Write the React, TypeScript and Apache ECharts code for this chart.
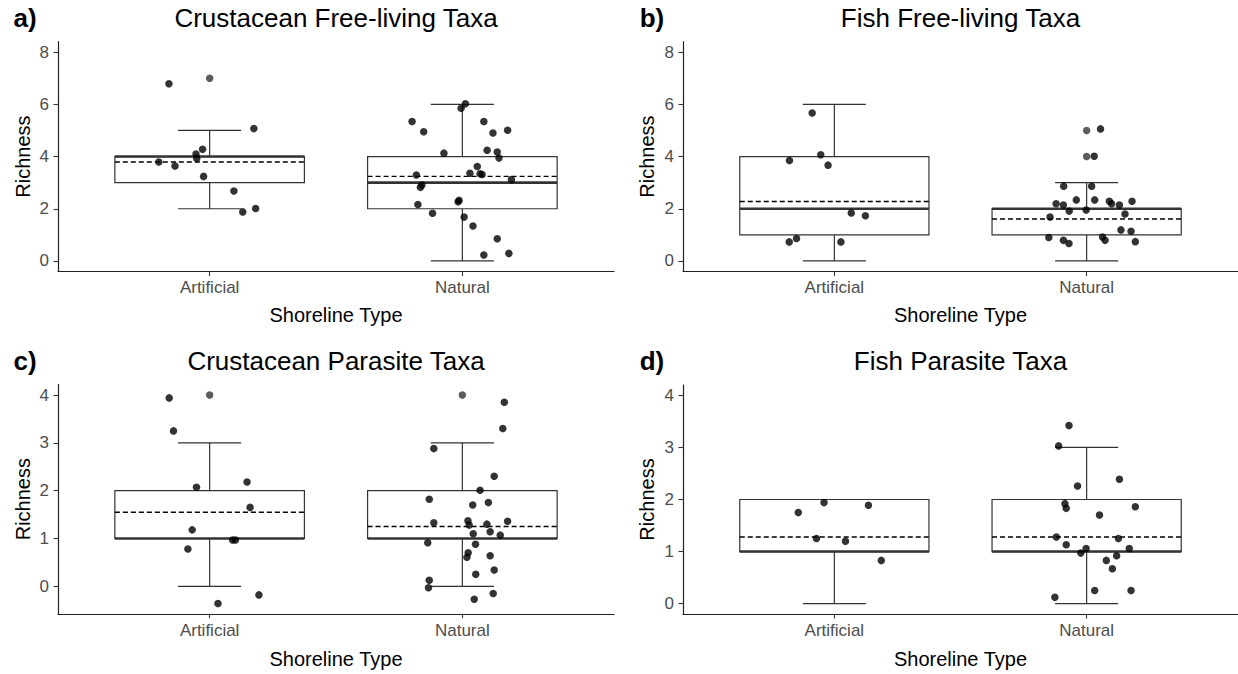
import React, { useEffect, useRef } from "react";
import * as echarts from "echarts";

const categories = ["Artificial", "Natural"];
const panelTags = ["a)", "b)", "c)", "d)"];
const panelTitles = [
  "Crustacean Free-living Taxa",
  "Fish Free-living Taxa",
  "Crustacean Parasite Taxa",
  "Fish Parasite Taxa",
];
const xAxisTitle = "Shoreline Type";
const yAxisTitle = "Richness";

const freeTicks = [0, 2, 4, 6, 8];
const parasiteTicks = [0, 1, 2, 3, 4];

// box stats: [category position, lower whisker, Q1, median, Q3, upper whisker, mean]
const crustFreeBox = [
  [1, 2, 3, 4, 4, 5, 3.79],
  [2, 0, 2, 3, 4, 6, 3.24],
];
const fishFreeBox = [
  [1, 0, 1, 2, 4, 6, 2.28],
  [2, 0, 1, 2, 2, 3, 1.61],
];
const crustParBox = [
  [1, 0, 1, 1, 2, 3, 1.55],
  [2, 0, 1, 1, 2, 3, 1.25],
];
const fishParBox = [
  [1, 0, 1, 1, 2, 2, 1.28],
  [2, 0, 1, 1, 2, 3, 1.28],
];

// boxplot outliers
const crustFreeOut = [[1, 7]];
const fishFreeOut = [[2, 5], [2, 4]];
const crustParOut = [[1, 4], [2, 4]];
const fishParOut: number[][] = [];

// jittered observations [jittered x, richness]
const crustFreePts = [
  [0.839, 6.79], [1.175, 5.07], [0.799, 3.79], [0.863, 3.64], [0.946, 4.1], [0.972, 4.28],
  [0.949, 3.93], [0.976, 3.24], [1.096, 2.68], [1.131, 1.88], [1.182, 2.01],
  [2.012, 6.02], [1.995, 5.85], [1.801, 5.34], [1.847, 4.95], [2.085, 5.34], [2.121, 4.9],
  [2.179, 5.01], [1.927, 4.13], [2.098, 4.24], [2.138, 4.17], [2.145, 3.94], [2.059, 3.62],
  [2.03, 3.36], [2.07, 3.34], [2.078, 3.31], [1.818, 3.29], [1.84, 2.91], [1.834, 2.82],
  [2.194, 3.12], [1.824, 2.16], [1.987, 2.32], [1.983, 2.27], [1.882, 1.83], [2.007, 1.68],
  [2.042, 1.34], [2.138, 0.85], [2.085, 0.23], [2.184, 0.29],
];
const fishFreePts = [
  [0.912, 5.67], [0.946, 4.07], [0.822, 3.85], [0.975, 3.67], [1.067, 1.84], [1.123, 1.73],
  [0.821, 0.73], [0.85, 0.86], [1.026, 0.73],
  [2.055, 5.06], [2.03, 4.01], [1.909, 2.86], [2.02, 2.86], [1.959, 2.34], [2.032, 2.34],
  [2.18, 2.29], [1.879, 2.19], [1.908, 2.14], [2.09, 2.29], [2.099, 2.19], [2.13, 2.14],
  [1.931, 1.91], [1.998, 1.95], [2.152, 1.8], [1.855, 1.68], [2.136, 1.19], [2.176, 1.14],
  [1.85, 0.9], [1.908, 0.79], [1.93, 0.67], [2.063, 0.92], [2.073, 0.79], [2.193, 0.74],
];
const crustParPts = [
  [0.84, 3.94], [0.857, 3.25], [0.948, 2.07], [1.148, 2.18], [1.16, 1.65], [0.931, 1.18],
  [1.091, 0.97], [1.102, 0.97], [0.914, 0.78], [1.195, -0.18], [1.033, -0.36],
  [2.166, 3.85], [2.16, 3.3], [1.887, 2.88], [2.126, 2.3], [2.07, 2.01], [1.869, 1.82],
  [2.103, 1.75], [2.041, 1.7], [1.887, 1.33], [2.022, 1.37], [2.027, 1.28], [2.097, 1.3],
  [2.179, 1.36], [2.11, 1.14], [2.043, 1.1], [2.15, 1.07], [1.863, 0.91], [2.052, 0.88],
  [2.023, 0.7], [2.018, 0.61], [2.11, 0.64], [2.053, 0.25], [2.126, 0.34], [1.869, 0.125],
  [1.866, -0.03], [2.122, -0.15], [2.047, -0.27],
];
const fishParPts = [
  [0.857, 1.75], [0.959, 1.94], [1.135, 1.89], [0.929, 1.25], [1.044, 1.2], [1.186, 0.83],
  [1.93, 3.42], [1.889, 3.03], [2.13, 2.39], [1.964, 2.26], [1.914, 1.92], [1.919, 1.83],
  [2.193, 1.86], [2.051, 1.7], [1.88, 1.28], [2.126, 1.25], [1.919, 1.13], [1.998, 1.06],
  [1.977, 0.97], [2.169, 1.06], [2.119, 0.92], [2.078, 0.83], [2.102, 0.67], [2.032, 0.25],
  [2.176, 0.25], [1.874, 0.12],
];

const FONT = "'Liberation Sans', Arial, Helvetica, sans-serif";

const panels = [
  { grid: { left: 58, top: 41.7, width: 556, height: 229.7 }, yMin: -0.4, yMax: 8.4, ticks: freeTicks, box: crustFreeBox, out: crustFreeOut, pts: crustFreePts },
  { grid: { left: 683, top: 41.7, width: 555, height: 229.7 }, yMin: -0.4, yMax: 8.4, ticks: freeTicks, box: fishFreeBox, out: fishFreeOut, pts: fishFreePts },
  { grid: { left: 58, top: 384.5, width: 556, height: 229.3 }, yMin: -0.575, yMax: 4.22, ticks: parasiteTicks, box: crustParBox, out: crustParOut, pts: crustParPts },
  { grid: { left: 683, top: 385, width: 555, height: 229 }, yMin: -0.2, yMax: 4.2, ticks: parasiteTicks, box: fishParBox, out: fishParOut, pts: fishParPts },
];

const BOX = "#333333";

function renderBox(params: any, api: any) {
  const x = api.value(0);
  const lo = api.value(1);
  const q1 = api.value(2);
  const med = api.value(3);
  const q3 = api.value(4);
  const hi = api.value(5);
  const mean = api.value(6);
  const bw = 0.375;
  const cw = 0.125;
  const pL = api.coord([x - bw, q1]);
  const pR = api.coord([x + bw, q3]);
  const cL = api.coord([x - cw, lo])[0];
  const cR = api.coord([x + cw, lo])[0];
  const xc = api.coord([x, 0])[0];
  const yLo = api.coord([x, lo])[1];
  const yHi = api.coord([x, hi])[1];
  const yQ1 = pL[1];
  const yQ3 = pR[1];
  const yMed = api.coord([x, med])[1];
  const yMean = api.coord([x, mean])[1];
  const ls = { stroke: BOX, lineWidth: 1.2 };
  return {
    type: "group",
    children: [
      { type: "line", shape: { x1: xc, y1: yQ3, x2: xc, y2: yHi }, style: ls },
      { type: "line", shape: { x1: xc, y1: yQ1, x2: xc, y2: yLo }, style: ls },
      { type: "line", shape: { x1: cL, y1: yHi, x2: cR, y2: yHi }, style: ls },
      { type: "line", shape: { x1: cL, y1: yLo, x2: cR, y2: yLo }, style: ls },
      {
        type: "rect",
        shape: { x: pL[0], y: yQ3, width: pR[0] - pL[0], height: yQ1 - yQ3 },
        style: { fill: "#ffffff", stroke: BOX, lineWidth: 1.2 },
      },
      { type: "line", shape: { x1: pL[0], y1: yMed, x2: pR[0], y2: yMed }, style: { stroke: BOX, lineWidth: 2.6 } },
      {
        type: "line",
        shape: { x1: pL[0], y1: yMean, x2: pR[0], y2: yMean },
        style: { stroke: "#000", lineWidth: 1.4, lineDash: [5, 3] },
      },
    ],
  };
}

export default function App() {
  const ref = useRef<HTMLDivElement>(null);
  useEffect(() => {
    if (!ref.current) return;
    const chart = echarts.init(ref.current, undefined, { renderer: "svg" });

    const grids = panels.map((p) => ({ ...p.grid, containLabel: false, outerBoundsMode: "none" }));
    const xAxes = panels.map((p, i) => ({
      type: "value",
      gridIndex: i,
      min: 0.4,
      max: 2.6,
      splitLine: { show: false },
      axisLine: { show: true, onZero: false, lineStyle: { color: "#222", width: 1.2 } },
      axisTick: { show: true, length: 4.5, lineStyle: { color: "#333", width: 1.1 }, customValues: [1, 2] },
      axisLabel: {
        show: true,
        customValues: [1, 2],
        formatter: (v: number) => categories[Math.round(v) - 1] || "",
        color: "#4D4D4D",
        fontSize: 17,
        fontFamily: FONT,
        margin: 8,
      },
    }));
    const yAxes = panels.map((p, i) => ({
      type: "value",
      gridIndex: i,
      min: p.yMin,
      max: p.yMax,
      splitLine: { show: false },
      axisLine: { show: true, onZero: false, lineStyle: { color: "#222", width: 1.2 } },
      axisTick: { show: true, length: 4.5, lineStyle: { color: "#333", width: 1.1 }, customValues: p.ticks },
      axisLabel: {
        show: true,
        customValues: p.ticks,
        formatter: (v: number) => String(v),
        color: "#4D4D4D",
        fontSize: 17,
        fontFamily: FONT,
        margin: 9,
      },
    }));

    const series: any[] = [];
    panels.forEach((p, i) => {
      series.push({
        type: "custom",
        xAxisIndex: i,
        yAxisIndex: i,
        renderItem: renderBox,
        data: p.box,
        encode: { x: 0, y: [1, 2, 3, 4, 5] },
        z: 2,
      });
      series.push({
        type: "scatter",
        xAxisIndex: i,
        yAxisIndex: i,
        data: p.out,
        symbol: "circle",
        symbolSize: 7.5,
        itemStyle: { color: "#333333" },
        z: 3,
      });
      series.push({
        type: "scatter",
        xAxisIndex: i,
        yAxisIndex: i,
        data: p.pts,
        symbol: "circle",
        symbolSize: 7.5,
        itemStyle: { color: "#000000" },
        z: 4,
      });
    });

    const graphics: any[] = [];
    panels.forEach((p, i) => {
      const g = p.grid;
      const cx = g.left + g.width / 2;
      const titleY = i < 2 ? 18 : 360.5;
      const tagX = i % 2 === 0 ? 25 : 652;
      graphics.push({
        type: "text",
        x: tagX,
        y: titleY,
        style: { text: panelTags[i], font: `bold 26px ${FONT}`, fill: "#000", textAlign: "center", textVerticalAlign: "middle" },
      });
      graphics.push({
        type: "text",
        x: cx,
        y: titleY,
        style: { text: panelTitles[i], font: `26px ${FONT}`, fill: "#000", textAlign: "center", textVerticalAlign: "middle" },
      });
      graphics.push({
        type: "text",
        x: cx,
        y: i < 2 ? 315 : 658.5,
        style: { text: xAxisTitle, font: `20px ${FONT}`, fill: "#000", textAlign: "center", textVerticalAlign: "middle" },
      });
      graphics.push({
        type: "text",
        x: i % 2 === 0 ? 23 : 647,
        y: g.top + g.height / 2,
        rotation: Math.PI / 2,
        style: { text: yAxisTitle, font: `20px ${FONT}`, fill: "#000", textAlign: "center", textVerticalAlign: "middle" },
      });
    });

    chart.setOption({
      animation: false,
      backgroundColor: "#ffffff",
      grid: grids,
      xAxis: xAxes,
      yAxis: yAxes,
      series,
      graphic: graphics,
    });
    return () => chart.dispose();
  }, []);
  return <div ref={ref} style={{ position: "absolute", left: 0, top: 0, width: 1238, height: 674 }} />;
}
